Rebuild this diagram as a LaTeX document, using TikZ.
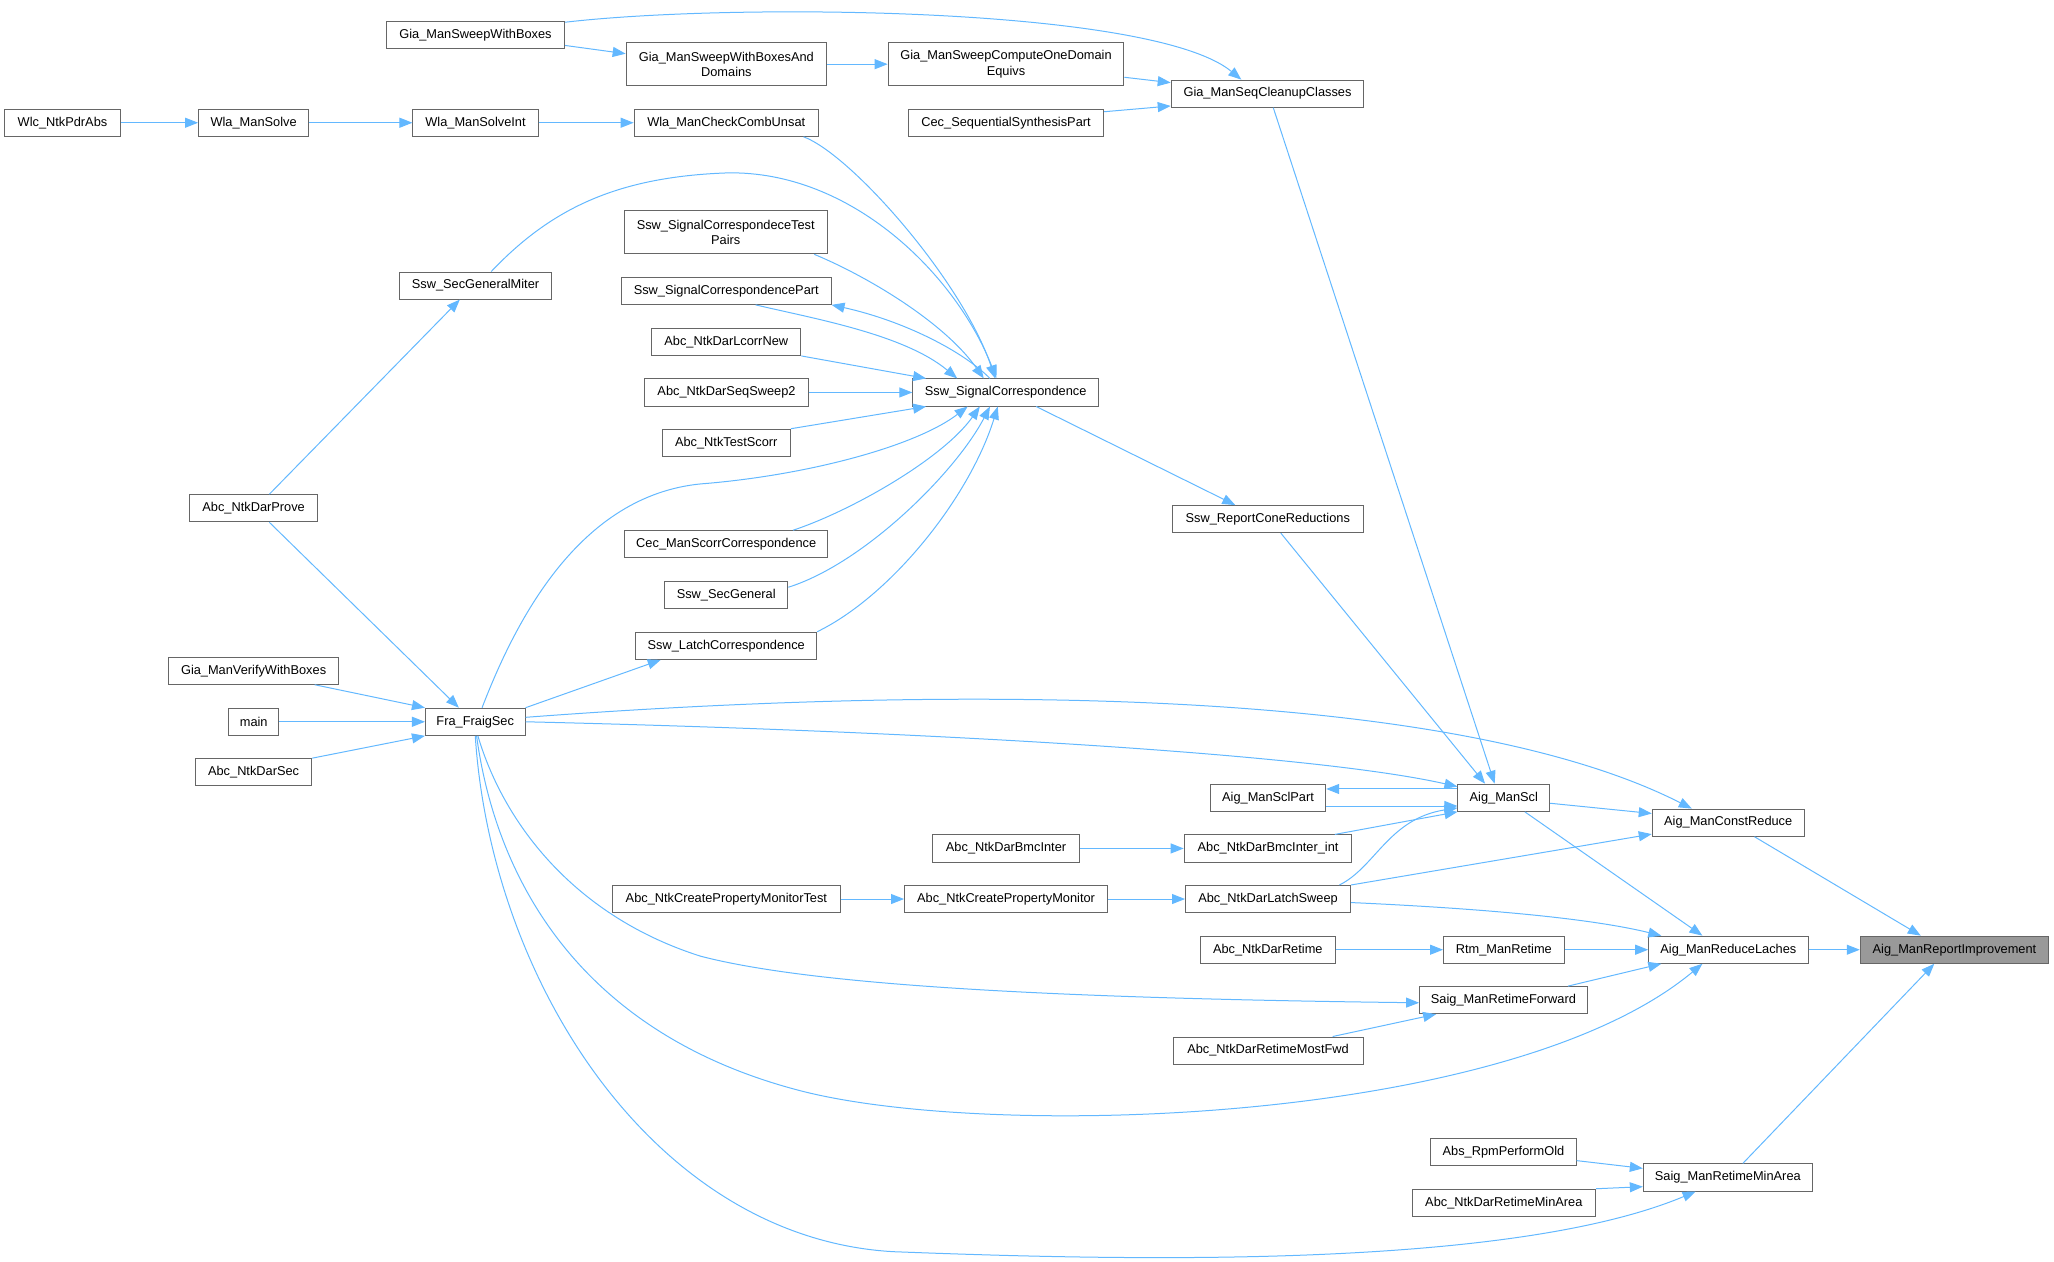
\documentclass[tikz,border=0pt]{standalone}
\usepackage{fontspec}
\setmainfont{Liberation Sans}
\usetikzlibrary{arrows.meta,calc}
\definecolor{edgec}{HTML}{63B8FF}
\definecolor{nodeb}{HTML}{666666}
\definecolor{hil}{HTML}{999999}
\tikzset{
  fn/.style={draw=nodeb, line width=1pt, fill=white, inner sep=0pt, minimum height=27.1pt,
    font=\fontsize{12.8}{15.5}\selectfont, align=center},
  bw/.style={minimum width=#1*1.31pt},
  two/.style={minimum height=43.2pt},
  arr/.style={draw=edgec, line width=1pt, -{Triangle[length=13pt,width=10pt]}},
}
\begin{document}
\begin{tikzpicture}[x=1.31pt,y=-1.31pt]
\useasboundingbox (0,0) rectangle (1568,963);
% nodes
\node[fn,bw=136] (gswb) at (363,26.7) {Gia\_ManSweepWithBoxes};
\node[fn,two,bw=153] (gswbd) at (554.5,49) {Gia\_ManSweepWithBoxesAnd\\Domains};
\node[fn,two,bw=180] (gscode) at (768,49) {Gia\_ManSweepComputeOneDomain\\Equivs};
\node[fn,bw=147] (gscc) at (967.6,71.5) {Gia\_ManSeqCleanupClasses};
\node[fn,bw=88.6] (wlc) at (47.7,93.7) {Wlc\_NtkPdrAbs};
\node[fn,bw=84] (wms) at (193.6,93.7) {Wla\_ManSolve};
\node[fn,bw=95.5] (wmsi) at (363,93.7) {Wla\_ManSolveInt};
\node[fn,bw=140.6] (wmccu) at (554.4,93.7) {Wla\_ManCheckCombUnsat};
\node[fn,bw=149] (csp) at (768,93.7) {Cec\_SequentialSynthesisPart};
\node[fn,two,bw=155] (tp) at (554,177.3) {Ssw\_SignalCorrespondeceTest\\Pairs};
\node[fn,bw=116] (sgm) at (363,218) {Ssw\_SecGeneralMiter};
\node[fn,bw=160] (part) at (554.4,222) {Ssw\_SignalCorrespondencePart};
\node[fn,bw=114] (lcn) at (554.4,261) {Abc\_NtkDarLcorrNew};
\node[fn,bw=125] (ss2) at (554.6,299.6) {Abc\_NtkDarSeqSweep2};
\node[fn,bw=141.7] (sc) at (767.7,299.6) {Ssw\_SignalCorrespondence};
\node[fn,bw=98] (tsc) at (554.4,338) {Abc\_NtkTestScorr};
\node[fn,bw=97.5] (prove) at (193.6,388) {Abc\_NtkDarProve};
\node[fn,bw=146] (rcr) at (967.8,396.3) {Ssw\_ReportConeReductions};
\node[fn,bw=155] (cms) at (554.4,415.5) {Cec\_ManScorrCorrespondence};
\node[fn,bw=94] (sg) at (554.4,454.3) {Ssw\_SecGeneral};
\node[fn,bw=138] (lc) at (554.4,493) {Ssw\_LatchCorrespondence};
\node[fn,bw=130] (vwb) at (193.6,512) {Gia\_ManVerifyWithBoxes};
\node[fn,bw=38] (mn) at (193.7,551) {main};
\node[fn,bw=76] (fra) at (362.8,551) {Fra\_FraigSec};
\node[fn,bw=88.7] (dsec) at (193.6,589.5) {Abc\_NtkDarSec};
\node[fn,bw=88] (sclp) at (968,609) {Aig\_ManSclPart};
\node[fn,bw=70] (scl) at (1148,609) {Aig\_ManScl};
\node[fn,bw=116] (cr) at (1319.3,628) {Aig\_ManConstReduce};
\node[fn,bw=112] (bmci) at (768,647.7) {Abc\_NtkDarBmcInter};
\node[fn,bw=128] (bmcii) at (968,647.7) {Abc\_NtkDarBmcInter\_int};
\node[fn,bw=174] (pmt) at (554.5,686.3) {Abc\_NtkCreatePropertyMonitorTest};
\node[fn,bw=155] (pm) at (768,686.3) {Abc\_NtkCreatePropertyMonitor};
\node[fn,bw=126] (dls) at (968,686.3) {Abc\_NtkDarLatchSweep};
\node[fn,bw=103] (dret) at (967.8,725) {Abc\_NtkDarRetime};
\node[fn,bw=92] (rtm) at (1148,725) {Rtm\_ManRetime};
\node[fn,bw=121.6] (rl) at (1319.4,725) {Aig\_ManReduceLaches};
\node[fn,bw=143.8,fill=hil] (ri) at (1492,725) {Aig\_ManReportImprovement};
\node[fn,bw=128] (rf) at (1147.7,763.5) {Saig\_ManRetimeForward};
\node[fn,bw=145] (rmf) at (968,802) {Abc\_NtkDarRetimeMostFwd};
\node[fn,bw=111] (rpo) at (1147.7,879.5) {Abs\_RpmPerformOld};
\node[fn,bw=129] (rma) at (1319,898.9) {Saig\_ManRetimeMinArea};
\node[fn,bw=140] (drma) at (1148,918.2) {Abc\_NtkDarRetimeMinArea};
% edges
\draw[arr] ($(gswb.east)+(0,8)$) -- ($(gswbd.west)+(0,-8)$);
\draw[arr] ($(gswb.north east)+(0,1)$) .. controls (560,2) and (880,5) .. ($(gscc.north)+(-20,0)$);
\draw[arr] (gswbd) -- (gscode);
\draw[arr] ($(gscode.east)+(0,10)$) -- ($(gscc.west)+(0,-8.4)$);
\draw[arr] ($(csp.east)+(0,-8.4)$) -- ($(gscc.west)+(0,9.4)$);
\draw[arr] ($(gscc.south)+(4.4,0)$) -- ($(scl.north)+(-7,0)$);
\draw[arr] (wlc) -- (wms);
\draw[arr] (wms) -- (wmsi);
\draw[arr] (wmsi) -- (wmccu);
\draw[arr] ($(wmccu.south)+(59,0)$) .. controls (650,118) and (735,215) .. ($(sc.north)+(-8,0)$);
\draw[arr] ($(sgm.north)+(12,0)$) .. controls (420,160) and (470,135) .. (555,132) .. controls (650,130) and (730,210) .. ($(sc.north)+(-7,0)$);
\draw[arr] ($(prove.north)+(12,0)$) -- ($(sgm.south)+(-12,0)$);
\draw[arr] ($(prove.south)+(12,0)$) -- ($(fra.north)+(-12.5,0)$);
\draw[arr] ($(tp.south)+(67.6,0)$) .. controls (660,210) and (720,245) .. ($(sc.north)+(-16.7,0)$);
\draw[arr] ($(part.south)+(22.4,0)$) .. controls (620,243) and (690,255) .. ($(sc.north)+(-37,0)$);
\draw[arr] ($(sc.north)+(-12,0)$) .. controls (735,268) and (690,245) .. (part.south east);
\draw[arr] (lcn.south east) -- ($(sc.north west)+(10.5,0)$);
\draw[arr] (ss2) -- (sc);
\draw[arr] (tsc.north east) -- ($(sc.south west)+(10.5,0)$);
\draw[arr] ($(fra.north)+(5.2,0)$) .. controls (395,470) and (445,375) .. (540,369) .. controls (620,362) and (700,340) .. ($(sc.south)+(-29,0)$);
\draw[arr] ($(cms.north)+(51,0)$) .. controls (650,390) and (720,350) .. ($(sc.south)+(-19.7,0)$);
\draw[arr] ($(sg.east)+(0,-6)$) .. controls (660,430) and (730,360) .. ($(sc.south)+(-12,0)$);
\draw[arr] (lc.north east) .. controls (680,455) and (740,380) .. ($(sc.south)+(-6,0)$);
\draw[arr] (fra.north east) -- ($(lc.south)+(-50,0)$);
\draw[arr] ($(sc.south)+(23.3,0)$) -- ($(rcr.north)+(-24.8,0)$);
\draw[arr] ($(rcr.south)+(10,0)$) -- ($(scl.north)+(-14.3,0)$);
\draw[arr] ($(vwb.south)+(46.6,0)$) -- (fra.north west);
\draw[arr] (mn) -- (fra);
\draw[arr] (dsec.north east) -- (fra.south west);
\draw[arr] ($(fra.east)+(0,-3.4)$) .. controls (700,525) and (1100,520) .. ($(cr.north)+(-27.8,0)$);
\draw[arr] (fra.east) .. controls (700,558) and (1000,575) .. ($(scl.west)+(0,-8.5)$);
\draw[arr] ($(scl.west)+(0,-6.7)$) -- ($(sclp.east)+(0,-6.7)$);
\draw[arr] ($(sclp.east)+(0,6.3)$) -- ($(scl.west)+(0,6.3)$);
\draw[arr] (bmci) -- (bmcii);
\draw[arr] ($(bmcii.north)+(51,0)$) -- (scl.south west);
\draw[arr] ($(dls.north)+(54.5,0)$) .. controls (1050,662) and (1060,625) .. ($(scl.south west)+(0,-3)$);
\draw[arr] (dls.north east) -- ($(cr.south west)+(0,-2)$);
\draw[arr] ($(dls.east)+(0,2.7)$) .. controls (1120,693) and (1210,700) .. ($(rl.north west)+(10,0)$);
\draw[arr] ($(scl.east)+(0,4.2)$) -- ($(cr.west)+(0,-7)$);
\draw[arr] ($(scl.south)+(16,0)$) -- ($(rl.north)+(-19.8,0)$);
\draw[arr] ($(cr.south)+(20,0)$) -- ($(ri.north)+(-25.7,0)$);
\draw[arr] (rl) -- (ri);
\draw[arr] (pmt) -- (pm);
\draw[arr] (pm) -- (dls);
\draw[arr] (dret) -- (rtm);
\draw[arr] (rtm) -- (rl);
\draw[arr] ($(rf.north)+(49.3,0)$) -- ($(rl.south west)+(10,0)$);
\draw[arr] ($(fra.south)+(2,0)$) .. controls (385,630) and (440,700) .. (535,730) .. controls (620,752) and (800,762) .. ($(rf.west)+(0,2)$);
\draw[arr] ($(rmf.north)+(49.3,0)$) -- ($(rf.south west)+(13,0)$);
\draw[arr] ($(fra.south)+(1,0)$) .. controls (380,680) and (450,790) .. (608.5,832) .. controls (750,870) and (1150,860) .. ($(rl.south)+(-19.8,0)$);
\draw[arr] (fra.south) .. controls (375,750) and (500,945) .. (681.6,955.5) .. controls (850,962) and (1150,970) .. ($(rma.south)+(-24.6,0)$);
\draw[arr] ($(rpo.east)+(0,6.5)$) -- ($(rma.west)+(0,-7)$);
\draw[arr] (drma.north east) -- ($(rma.west)+(0,7)$);
\draw[arr] ($(rma.north)+(11.4,0)$) -- ($(ri.south)+(-15.4,0)$);
\end{tikzpicture}
\end{document}
